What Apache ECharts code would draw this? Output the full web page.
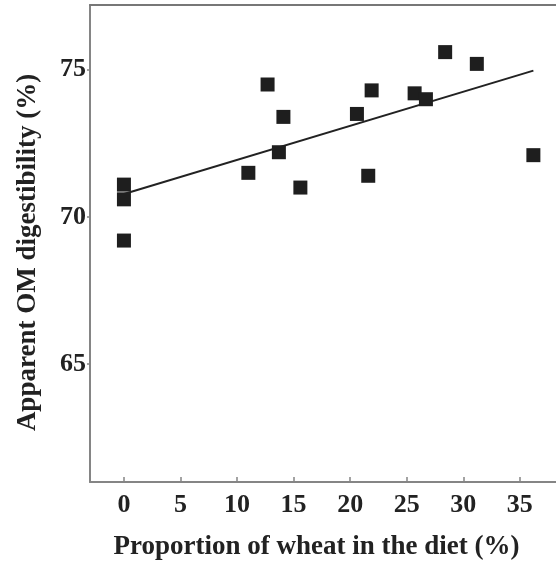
<!DOCTYPE html>
<html>
<head>
<meta charset="utf-8">
<script src="https://cdn.jsdelivr.net/npm/echarts@6/dist/echarts.min.js"></script>
<style>
  html, body { margin: 0; padding: 0; background: #fff; }
  #chart { width: 556px; height: 561px; }
</style>
</head>
<body>
<div id="chart"></div>
<script>
// Wheat proportion in the diet (%) and apparent OM digestibility (%)
const wheatPct = [0, 0, 0, 11, 12.7, 14.1, 13.7, 15.6, 20.6, 21.9, 21.6, 25.7, 26.7, 28.4, 31.2, 36.2];
const omDigest = [71.1, 70.6, 69.2, 71.5, 74.5, 73.4, 72.2, 71.0, 73.5, 74.3, 71.4, 74.2, 74.0, 75.6, 75.2, 72.1];

// Fitted regression line endpoints
const fitX = [0, 36.2];
const fitY = [70.78, 74.97];

const xTicks = [0, 5, 10, 15, 20, 25, 30, 35];
const yTicks = [65, 70, 75];

const font = '"Liberation Serif", "DejaVu Serif", serif';
const axisGray = '#858585';

const points = wheatPct.map((x, i) => [x, omDigest[i]]);
const fitLine = fitX.map((x, i) => [x, fitY[i]]);

const chart = echarts.init(document.getElementById('chart'));
chart.setOption({
  animation: false,
  backgroundColor: '#fff',
  grid: { left: 90, right: 0, top: 5, bottom: 79, outerBoundsMode: 'none', containLabel: false },
  xAxis: [{
    type: 'value',
    min: -3,
    max: 38.2,
    name: 'Proportion of wheat in the diet (%)',
    nameLocation: 'middle',
    nameGap: 52,
    nameTextStyle: { fontFamily: font, fontWeight: 'bold', fontSize: 27, color: '#222', padding: [0, 13, 0, 0] },
    axisLine: { show: true, onZero: false, lineStyle: { color: axisGray, width: 2 } },
    axisTick: { show: true, inside: true, length: 5, customValues: xTicks, lineStyle: { color: axisGray, width: 1.5 } },
    axisLabel: { customValues: xTicks, margin: 10, fontFamily: font, fontWeight: 'bold', fontSize: 26, color: '#222' },
    splitLine: { show: false }
  }, {
    type: 'value',
    position: 'top',
    min: -3,
    max: 38.2,
    axisLine: { show: true, lineStyle: { color: '#777', width: 2 } },
    axisTick: { show: false },
    axisLabel: { show: false },
    splitLine: { show: false }
  }],
  yAxis: {
    type: 'value',
    min: 61,
    max: 77.2,
    name: 'Apparent OM digestibility (%)',
    nameLocation: 'middle',
    nameGap: 48,
    nameTextStyle: { fontFamily: font, fontWeight: 'bold', fontSize: 27, color: '#222', padding: [0, 18, 0, 0] },
    axisLine: { show: true, onZero: false, lineStyle: { color: axisGray, width: 2 } },
    axisTick: { show: true, length: 3, customValues: yTicks, lineStyle: { color: axisGray, width: 1.5 } },
    axisLabel: { customValues: yTicks, margin: 4, fontFamily: font, fontWeight: 'bold', fontSize: 26, color: '#222' },
    splitLine: { show: false }
  },
  series: [{
    type: 'line',
    data: fitLine,
    symbol: 'none',
    lineStyle: { color: '#222', width: 2 },
    z: 2
  }, {
    type: 'scatter',
    data: points,
    symbol: 'rect',
    symbolSize: 14,
    itemStyle: { color: '#1e1e1e', opacity: 1 },
    z: 3
  }]
});
</script>
</body>
</html>
